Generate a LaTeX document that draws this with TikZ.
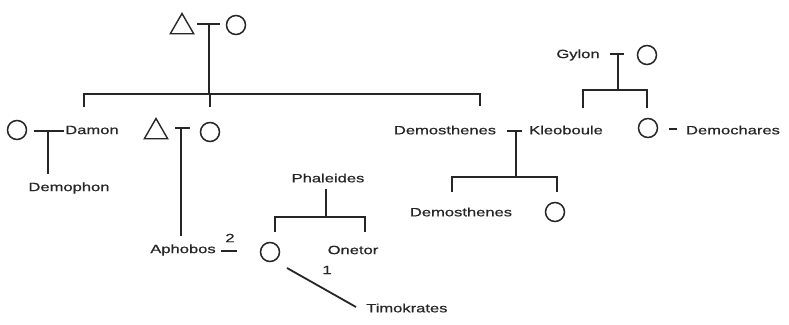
\documentclass[tikz,border=0pt]{standalone}
\usepackage{fontspec}
\newfontfamily\lab[FakeStretch=1.38,FakeBold=0.6]{Liberation Sans}
\usetikzlibrary{shapes.geometric}
\begin{document}
\begin{tikzpicture}[x=1pt,y=-1pt,
  lbl/.style={inner sep=0pt, text=black!85, font=\lab\fontsize{12}{12}\selectfont},
  fem/.style={circle, draw=black!85, line width=1.5pt, minimum size=19pt, inner sep=0pt},
  male/.style={regular polygon, regular polygon sides=3, draw=black!85, line width=1.4pt, minimum size=27pt, inner sep=0pt},
  ln/.style={line width=1.8pt, draw=black!85}]
\fill[white] (0,0) rectangle (789,324);
\useasboundingbox (0,0) rectangle (789,324);

% top couple
\node[male] (tri1) at (182,27) {};
\node[fem] (cir1) at (236,25) {};
\coordinate (m1a) at (197,24);
\coordinate (m1b) at (220,24);
\coordinate (m1c) at (209,24);
\coordinate (b1) at (209,94);
\coordinate (b1l) at (84,94);
\coordinate (b1r) at (480,94);
\coordinate (d1) at (84,107);
\coordinate (d2) at (210,107);
\coordinate (d3) at (480,106);
\draw[ln] (m1a) -- (m1b);
\draw[ln] (m1c) -- (b1);
\draw[ln] (d1) -- (b1l) -- (b1r) -- (d3);
\draw[ln] (d2) -- (d2 |- b1);

% Damon
\node[fem] (cir2) at (17,130) {};
\node[lbl] (damon) at (92,130) {Damon};
\node[lbl] (demophon) at (69,188) {Demophon};
\coordinate (m2a) at (34,131);
\coordinate (m2b) at (64,131);
\coordinate (m2c) at (48,131);
\coordinate (m2d) at (48,174);
\draw[ln] (m2a) -- (m2b);
\draw[ln] (m2c) -- (m2d);

% second couple
\node[male] (tri2) at (156,132) {};
\node[fem] (cir3) at (210,132) {};
\coordinate (m3a) at (175,128);
\coordinate (m3b) at (190,128);
\coordinate (m3c) at (181,128);
\coordinate (m3d) at (181,236);
\draw[ln] (m3a) -- (m3b);
\draw[ln] (m3c) -- (m3d);

\node[lbl] (aphobos) at (183,250) {Aphobos};
\coordinate (da) at (221,251);
\coordinate (db) at (237,251);
\draw[ln] (da) -- (db);
\node[lbl] (two) at (230,238) {2};
\node[fem] (cir4) at (270,252) {};

% Phaleides
\node[lbl] (phal) at (328,178) {Phaleides};
\coordinate (p1) at (326,189);
\coordinate (p2) at (326,217);
\coordinate (p3) at (275,217);
\coordinate (p4) at (365,217);
\coordinate (p5) at (275,232);
\coordinate (p6) at (365,232);
\draw[ln] (p1) -- (p2);
\draw[ln] (p5) -- (p3) -- (p4) -- (p6);
\node[lbl] (onetor) at (353,250) {Onetor};
\node[lbl] (one) at (327,270) {1};

% Timokrates
\coordinate (tk1) at (287,268);
\coordinate (tk2) at (356,307);
\draw[ln] (tk1) -- (tk2);
\node[lbl, anchor=west] (timo) at (366,308) {Timokrates};

% Demosthenes
\node[lbl] (dem1) at (445,130) {Demosthenes};
\node[lbl] (kleo) at (566,130) {Kleoboule};
\coordinate (m4a) at (507,131);
\coordinate (m4b) at (522,131);
\coordinate (m4c) at (516,131);
\coordinate (m4d) at (516,177);
\coordinate (q1) at (452,177);
\coordinate (q2) at (557,177);
\coordinate (q3) at (452,192);
\coordinate (q4) at (557,192);
\draw[ln] (m4a) -- (m4b);
\draw[ln] (m4c) -- (m4d);
\draw[ln] (q3) -- (q1) -- (q2) -- (q4);
\node[lbl] (dem2) at (461,212) {Demosthenes};
\node[fem] (cir5) at (555,212) {};

% Gylon
\node[lbl] (gylon) at (578,55) {Gylon};
\node[fem] (cir6) at (647,55) {};
\coordinate (m5a) at (610,54);
\coordinate (m5b) at (624,54);
\coordinate (m5c) at (618,54);
\coordinate (m5d) at (618,90);
\coordinate (g1) at (583,90);
\coordinate (g2) at (647,90);
\coordinate (g3) at (583,108);
\coordinate (g4) at (647,108);
\draw[ln] (m5a) -- (m5b);
\draw[ln] (m5c) -- (m5d);
\draw[ln] (g3) -- (g1) -- (g2) -- (g4);
\node[fem] (cir7) at (648,128) {};
\coordinate (e1) at (669,129);
\coordinate (e2) at (677,129);
\draw[ln] (e1) -- (e2);
\node[lbl] (democh) at (733,130) {Demochares};
\end{tikzpicture}
\end{document}
